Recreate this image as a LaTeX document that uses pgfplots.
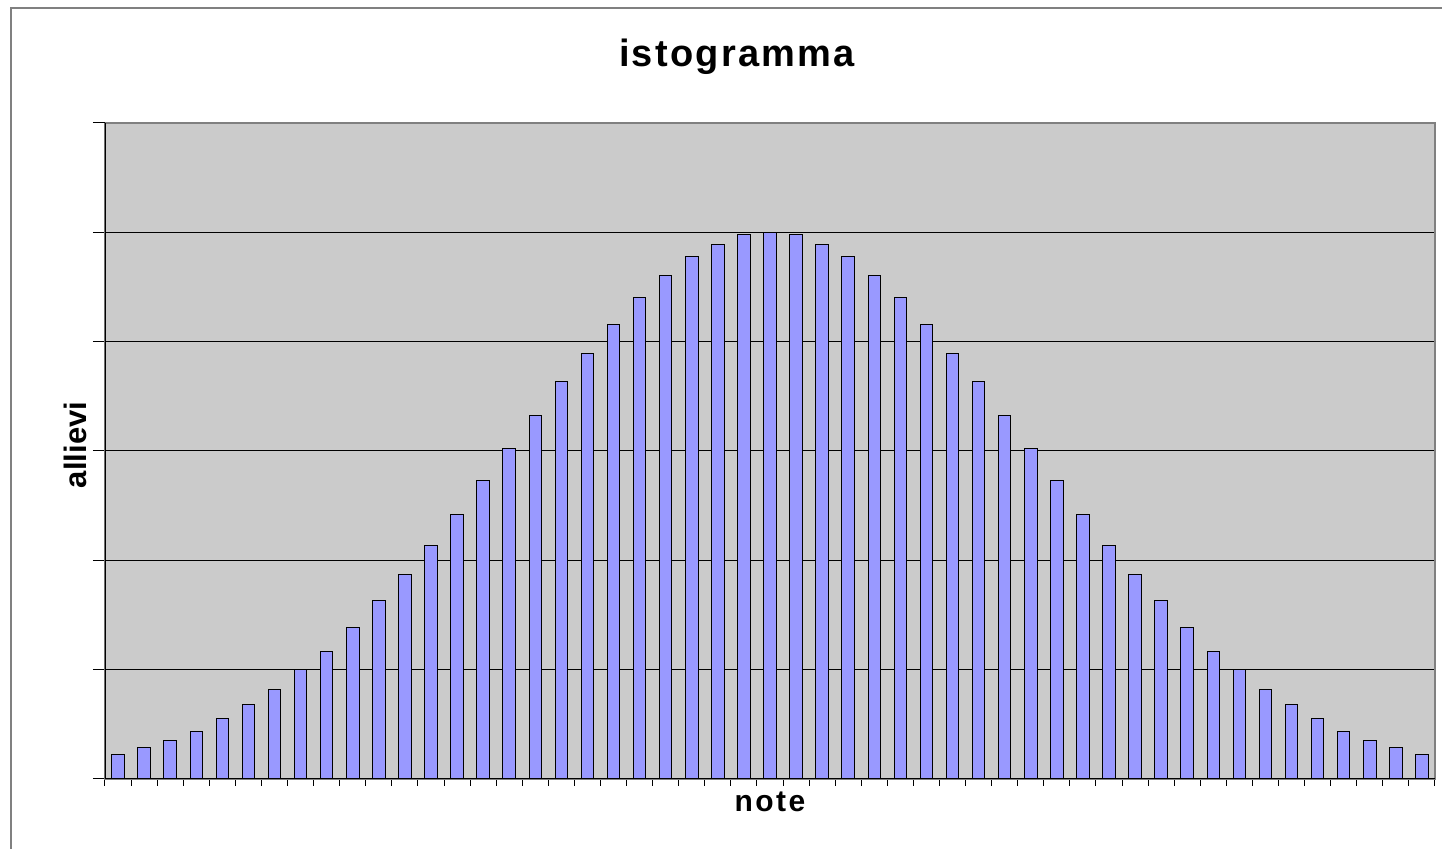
\documentclass[border=0pt]{standalone}
\usepackage{fontspec}
\setmainfont{Liberation Sans}
\usepackage{pgfplots}
\pgfplotsset{compat=1.18}
\definecolor{plotgray}{RGB}{203,203,203}
\definecolor{barblue}{RGB}{153,153,255}
\begin{document}
\begin{tikzpicture}
\begin{axis}[
  scale only axis, width=665pt, height=328pt,
  at={(0,0)}, anchor=south west,
  xmin=-0.5, xmax=50.5, ymin=0, ymax=6,
  xtick={-0.5,0.5,...,50.5}, xticklabels={},
  ytick={0,1,...,5}, yticklabels={},
  extra y ticks={6}, extra y tick labels={}, extra y tick style={grid=none},
  tick align=outside, tick pos=left,
  xtick style={black, line width=0.5pt, /pgfplots/major tick length=3.5pt},
  ytick style={black, line width=0.5pt, /pgfplots/major tick length=6pt},
  ymajorgrids, grid style={black, line width=0.5pt},
  axis background/.style={fill=plotgray},
  axis line style={draw=gray, line width=0.75pt},
  ybar, bar width=0.48,
]
\addplot[fill=barblue, draw=black, line width=0.5pt] coordinates {
(0,0.22) (1,0.286) (2,0.353) (3,0.438) (4,0.551) (5,0.685) (6,0.816) (7,1.0)
(8,1.165) (9,1.388) (10,1.628) (11,1.872) (12,2.133) (13,2.423) (14,2.731)
(15,3.019) (16,3.327) (17,3.631) (18,3.896) (19,4.161) (20,4.407) (21,4.603)
(22,4.779) (23,4.891) (24,4.98) (25,5.0)
(26,4.98) (27,4.891) (28,4.779) (29,4.603) (30,4.407) (31,4.161) (32,3.896)
(33,3.631) (34,3.327) (35,3.019) (36,2.731) (37,2.423) (38,2.133) (39,1.872)
(40,1.628) (41,1.388) (42,1.165) (43,1.0) (44,0.816) (45,0.685) (46,0.551)
(47,0.438) (48,0.353) (49,0.286) (50,0.22)
};
\draw[black, line width=0.75pt] (rel axis cs:0,0) -- (rel axis cs:0,1);
\draw[black, line width=0.75pt] (rel axis cs:0,0) -- (rel axis cs:1,0);
\end{axis}
\draw[gray, line width=0.75pt] (-47pt,-40pt) -- (-47pt,385.5pt) -- (680pt,385.5pt);
\node[anchor=base, inner sep=0pt] at (316pt,356pt)
  {\fontsize{19}{22}\selectfont\bfseries\addfontfeature{LetterSpace=6}istogramma};
\node[anchor=base, inner sep=0pt] at (332.5pt,-16.5pt)
  {\fontsize{15}{18}\selectfont\bfseries\addfontfeature{LetterSpace=8}note};
\node[rotate=90, inner sep=0pt] at (-15pt,167pt)
  {\fontsize{15.5}{18}\selectfont\bfseries allievi};
\pgfresetboundingbox
\path[use as bounding box] (-52.5pt,-35pt) rectangle (668.5pt,389.5pt);
\end{tikzpicture}
\end{document}
